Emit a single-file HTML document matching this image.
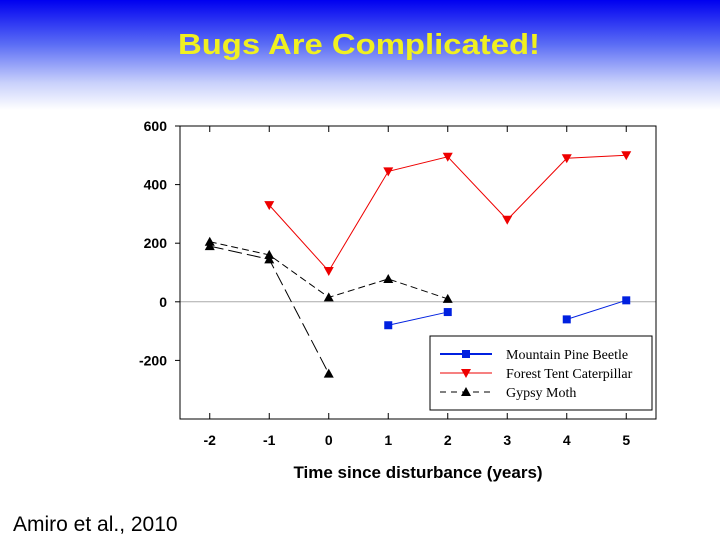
<!DOCTYPE html>
<html><head><meta charset="utf-8"><style>
body{margin:0;width:720px;height:540px;overflow:hidden;background:#fff;font-family:"Liberation Sans",sans-serif}
#bg{position:absolute;left:0;top:0;width:720px;height:110px;background:linear-gradient(#0000f0 0%,#5a6cf5 40%,#c8d0fb 75%,#fff 100%)}
</style></head><body>
<div id="bg"></div>
<svg width="720" height="540" style="position:absolute;left:0;top:0">
<text x="178" y="54" textLength="362" lengthAdjust="spacingAndGlyphs" font-size="29" font-weight="bold" fill="#f0f020">Bugs Are Complicated!</text>
<text x="13" y="531" font-size="21" fill="#000">Amiro et al., 2010</text>
<g id="plot"></g>
</svg>
<script>
const xTicks=[-2,-1,0,1,2,3,4,5];
const yTicks=[-200,0,200,400,600];
const mpbX=[1,2,4,5];
const mpbY=[-80,-35,-60,5];
const ftcX=[-1,0,1,2,3,4,5];
const ftcY=[330,105,445,495,280,490,500];
const gm1X=[-2,-1,0,1,2];
const gm1Y=[205,160,15,78,10];
const gm2X=[-2,-1,0];
const gm2Y=[190,145,-245];
const L=180,R=656,T=126,B=419;
const sx=v=>L+(v+2.5)/8*(R-L);
const sy=v=>T+(600-v)/1000*(B-T);
const g=document.getElementById('plot');
const NS='http://www.w3.org/2000/svg';
function mk(t,a){const e=document.createElementNS(NS,t);for(const k in a)e.setAttribute(k,a[k]);g.appendChild(e);return e;}
let e=mk('line',{x1:L,x2:R,y1:sy(0),y2:sy(0),stroke:'#aaa'});


e=mk('rect',{x:L,y:T,width:R-L,height:B-T,fill:'none',stroke:'#000'});


xTicks.forEach(v=>{
 mk('line',{x1:sx(v),x2:sx(v),y1:T,y2:T+6,stroke:'#000'});
 mk('line',{x1:sx(v),x2:sx(v),y1:B,y2:B-6,stroke:'#000'});
 const t=mk('text',{x:sx(v),y:B+26,'text-anchor':'middle','font-size':14,'font-weight':'bold'});t.textContent=v;
 
 
});
yTicks.forEach(v=>{
 mk('line',{x1:L,x2:L-5,y1:sy(v),y2:sy(v),stroke:'#000'});
 const t=mk('text',{x:L-13,y:sy(v)+5,'text-anchor':'end','font-size':14,'font-weight':'bold'});t.textContent=v;
 
 
});
e=mk('text',{x:418,y:478,'text-anchor':'middle','font-size':17,'font-weight':'bold'});e.textContent='Time since disturbance (years)';


function marker(type,x,y,c){
 if(type==='sq')return mk('rect',{x:x-4,y:y-4,width:8,height:8,fill:c});
 if(type==='dn')return mk('polygon',{points:`${x-5},${y-4} ${x+5},${y-4} ${x},${y+5}`,fill:c});
 return mk('polygon',{points:`${x-5},${y+4} ${x+5},${y+4} ${x},${y-5}`,fill:c});
}
function series(xs,ys,c,dash,type,name,segs){
 segs.forEach(s=>{
  const p=s.map(i=>sx(xs[i])+','+sy(ys[i])).join(' ');
  const l=mk('polyline',{points:p,fill:'none',stroke:c,'stroke-width':1,'stroke-dasharray':dash});
  
  
 });
 xs.forEach((x,i)=>{const m=marker(type,sx(x),sy(ys[i]),c);
  
  });
}
series(ftcX,ftcY,'#e00','none','dn','forest-tent-caterpillar',[[0,1,2,3,4,5,6]]);
series(mpbX,mpbY,'#0020e0','none','sq','mountain-pine-beetle',[[0,1],[2,3]]);
series(gm1X,gm1Y,'#000','7,4','up','gypsy-moth',[[0,1,2,3,4]]);
series(gm2X,gm2Y,'#000','14,5','up','gypsy-moth-alt',[[0,1,2]]);
e=mk('rect',{x:430,y:336,width:222,height:74,fill:'#fff',stroke:'#000'});


const leg=[['Mountain Pine Beetle','#0020e0','none','sq',2],['Forest Tent Caterpillar','#e00','none','dn',1],['Gypsy Moth','#000','6,5','up',1]];
leg.forEach((d,i)=>{const y=354+i*19;
 mk('line',{x1:440,x2:492,y1:y,y2:y,stroke:d[1],'stroke-width':d[4],'stroke-dasharray':d[2]});
 marker(d[3],466,y,d[1]);
 const t=mk('text',{x:506,y:y+5,'font-size':14,'font-family':'Liberation Serif,serif'});t.textContent=d[0];
 
 
});
</script>
</body></html>
